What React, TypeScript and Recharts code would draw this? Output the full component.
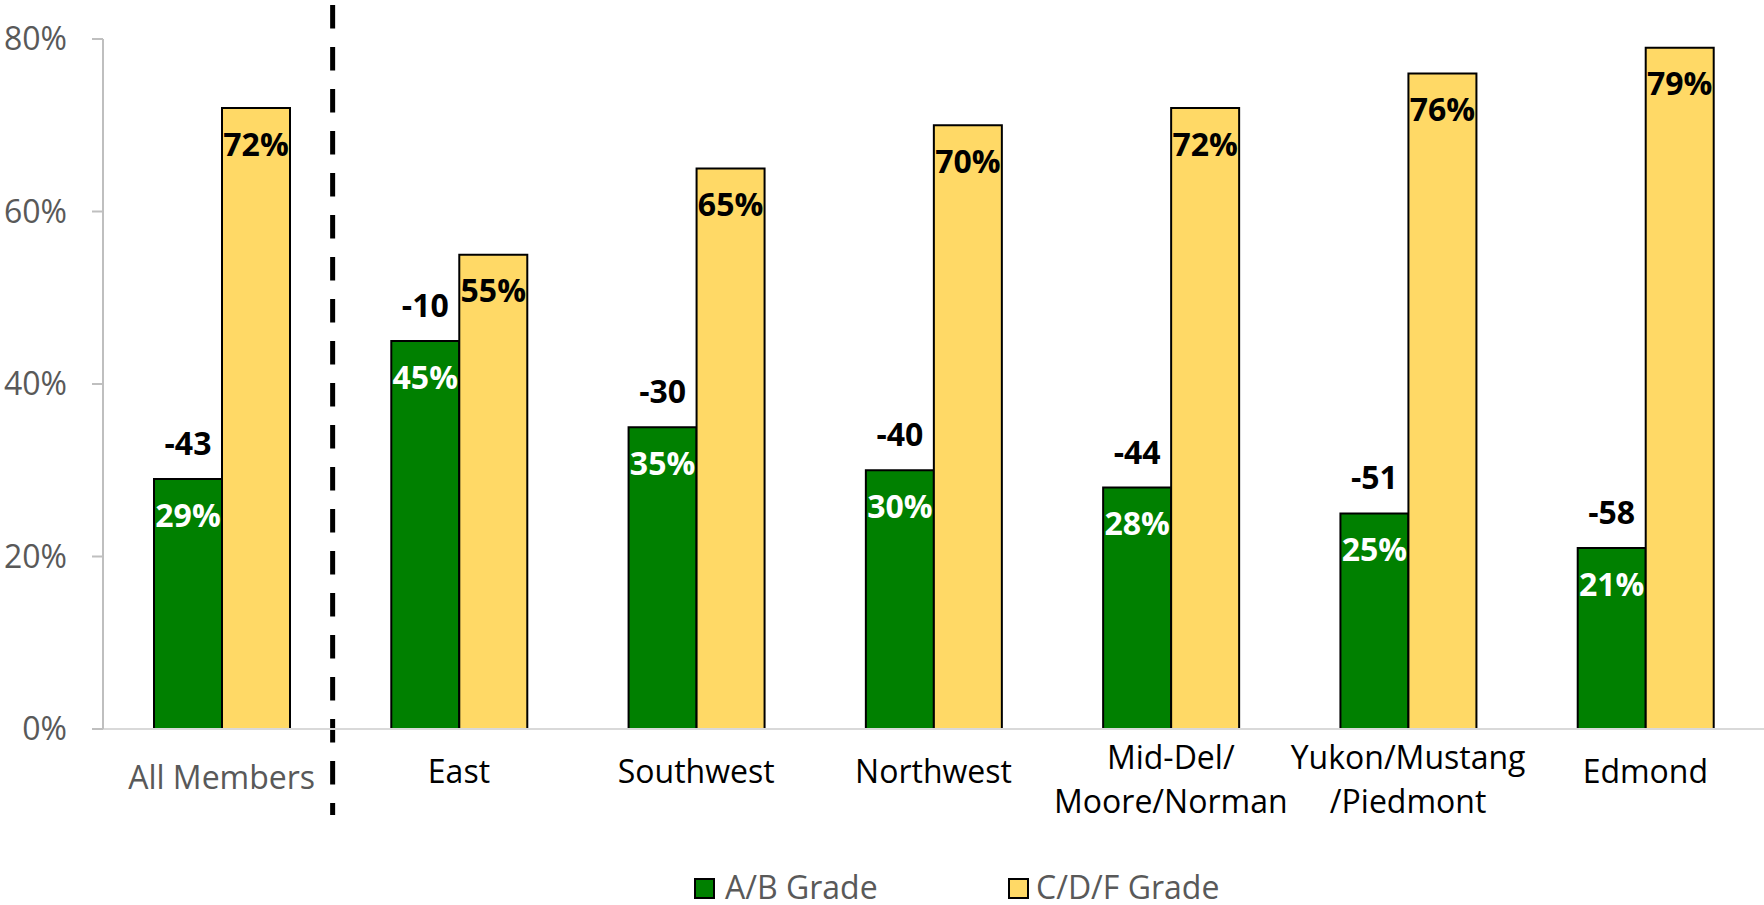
import React from 'react';
import { BarChart, Bar, XAxis, YAxis, LabelList, ReferenceLine, Legend } from 'recharts';

const categories = [
  'All Members',
  'East',
  'Southwest',
  'Northwest',
  'Mid-Del/\nMoore/Norman',
  'Yukon/Mustang\n/Piedmont',
  'Edmond',
];
const abGrade = [29, 45, 35, 30, 28, 25, 21];
const cdfGrade = [72, 55, 65, 70, 72, 76, 79];
const gradeGap = [-43, -10, -30, -40, -44, -51, -58];
const yTicks = [0, 20, 40, 60, 80];
const seriesNames = ['A/B Grade', 'C/D/F Grade'];

const data = categories.map((c, i) => ({
  name: c,
  ab: abGrade[i],
  cdf: cdfGrade[i],
  gap: gradeGap[i],
}));

const FONT = "'Open Sans', sans-serif";

const XTick = (props: any) => {
  const { x, y, payload, index } = props;
  const lines = String(payload.value).split('\n');
  const isAll = index === 0;
  const fill = isAll ? '#595959' : '#000000';
  if (lines.length === 1) {
    return (
      <text x={x} y={y + (isAll ? 60 : 54)} textAnchor="middle" fill={fill} fontSize={32} fontFamily={FONT}>
        {lines[0]}
      </text>
    );
  }
  return (
    <text textAnchor="middle" fill={fill} fontSize={32} fontFamily={FONT}>
      {lines.map((l, k) => (
        <tspan key={k} x={x} y={y + 40 + k * 44}>
          {l}
        </tspan>
      ))}
    </text>
  );
};

const DividerShape = (props: any) => {
  const { x1, y1, y2 } = props;
  const top = Math.min(y1, y2);
  const bottom = Math.max(y1, y2);
  const x = x1 + 111;
  return (
    <line
      x1={x}
      x2={x}
      y1={top - 34}
      y2={bottom + 86}
      stroke="#000000"
      strokeWidth={5}
      strokeDasharray="23.5 18.5"
    />
  );
};

const legendLefts = [694, 1008];

const LegendContent = (props: any) => {
  const payload = props.payload || [];
  return (
    <div style={{ position: 'relative', width: 1764, height: 36, fontFamily: FONT }}>
      {payload.map((p: any, i: number) => (
        <div
          key={i}
          style={{
            position: 'absolute',
            left: legendLefts[i],
            top: 0,
            height: 36,
            display: 'flex',
            alignItems: 'center',
          }}
        >
          <div
            style={{
              width: 17,
              height: 17,
              background: p.color,
              border: '2px solid #000',
              marginRight: i === 0 ? 10 : 7,
              marginTop: 2,
            }}
          />
          <span style={{ fontSize: 32, color: '#595959', lineHeight: '36px' }}>{p.value}</span>
        </div>
      ))}
    </div>
  );
};

export default function App() {
  return (
    <div style={{ position: 'absolute', left: 0, top: 0, fontFamily: FONT }}>
      <BarChart
        width={1764}
        height={905}
        data={data}
        margin={{ top: 39, right: 0, left: 0, bottom: 0 }}
        barGap={0}
        style={{ fontFamily: FONT }}
      >
        <XAxis
          dataKey="name"
          height={176}
          tickLine={false}
          tickSize={0}
          tickMargin={0}
          interval={0}
          axisLine={{ stroke: '#d9d9d9', strokeWidth: 2 }}
          tick={XTick}
        />
        <YAxis
          width={103}
          domain={[0, 80]}
          ticks={yTicks}
          tickFormatter={(v: number) => `${v}%`}
          axisLine={{ stroke: '#bfbfbf', strokeWidth: 2 }}
          tickLine={{ stroke: '#bfbfbf', strokeWidth: 2 }}
          tickSize={11}
          tickMargin={25}
          tick={{ fill: '#595959', fontSize: 32, fontFamily: FONT }}
          allowDataOverflow
        />
        <Bar
          dataKey="ab"
          name={seriesNames[0]}
          fill="#008000"
          stroke="#000000"
          strokeWidth={2}
          barSize={68}
          isAnimationActive={false}
        >
          <LabelList
            dataKey="ab"
            position="insideTop"
            offset={25}
            fill="#ffffff"
            fontSize={32}
            fontWeight={700}
            fontFamily={FONT}
            formatter={(v: any) => `${v}%`}
          />
          <LabelList
            dataKey="gap"
            position="top"
            offset={24}
            fill="#000000"
            fontSize={32}
            fontWeight={700}
            fontFamily={FONT}
          />
        </Bar>
        <Bar
          dataKey="cdf"
          name={seriesNames[1]}
          fill="#FFD966"
          stroke="#000000"
          strokeWidth={2}
          barSize={68}
          isAnimationActive={false}
        >
          <LabelList
            dataKey="cdf"
            position="insideTop"
            offset={25}
            fill="#000000"
            fontSize={32}
            fontWeight={700}
            fontFamily={FONT}
            formatter={(v: any) => `${v}%`}
          />
        </Bar>
        <ReferenceLine x={categories[0]} shape={DividerShape} ifOverflow="visible" />
        <Legend
          layout="horizontal"
          verticalAlign="middle"
          align="center"
          wrapperStyle={{ left: 0, top: 869, width: 1764, height: 36 }}
          content={LegendContent}
        />
      </BarChart>
    </div>
  );
}
